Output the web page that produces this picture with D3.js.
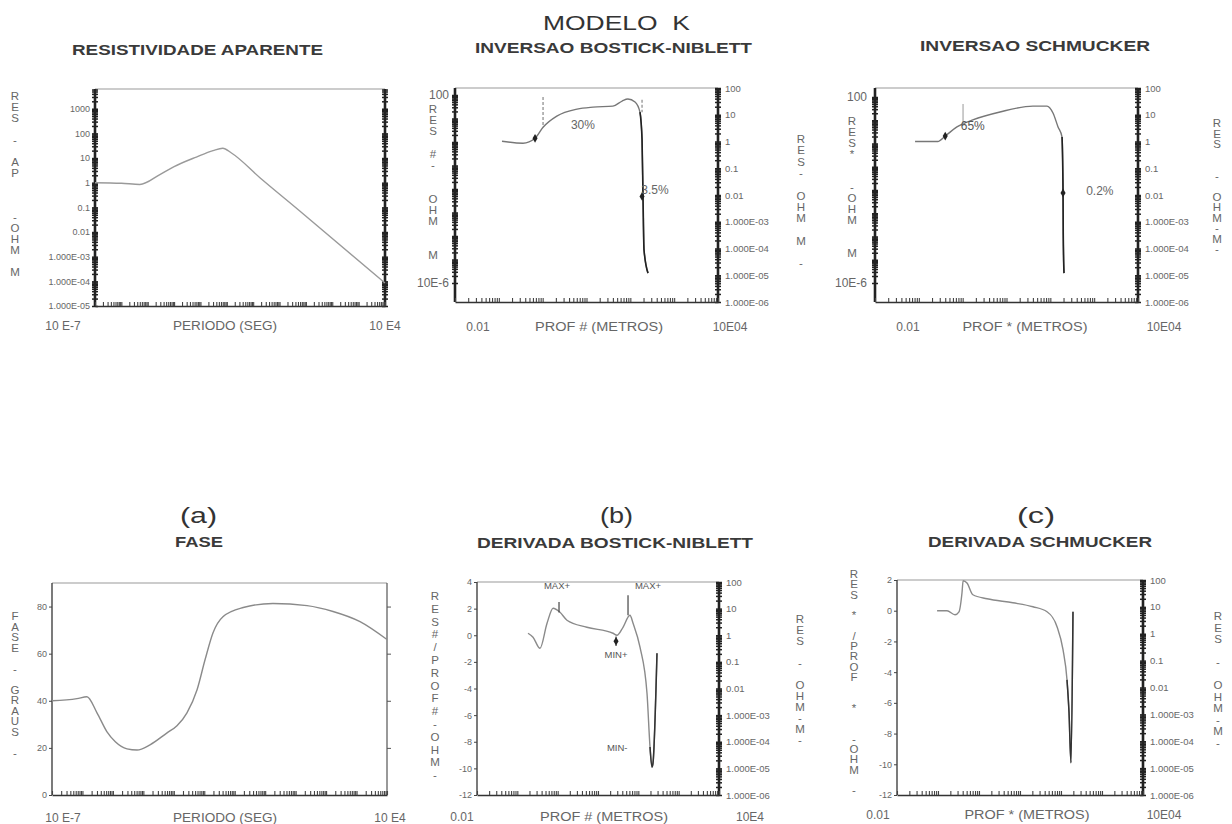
<!doctype html>
<html lang="pt">
<head>
<meta charset="utf-8">
<script src="https://d3js.org/d3.v7.min.js"></script>
<title>Modelo K</title>
<style>
  body { margin: 0; background: #fff; }
  svg text { font-family: "Liberation Sans", Arial, sans-serif; }
</style>
</head>
<body>
<svg id="svg" width="1232" height="824"></svg>
<script>
// ---------------- data ----------------
// resistividade aparente vs periodo
const periodoRes = [1e-7, 1e-6, 5e-6, 3e-5, 1e-4, 7e-4, 3e-3, 7e-3, 1.5e-2, 0.18, 6, 1e4];
const resAparente = [1.0, 0.95, 0.85, 2.2, 4.5, 11, 20, 25, 16, 1.6, 0.07, 8.5e-5];

// fase vs periodo
const periodoFase = [1e-7, 6.6e-7, 1.4e-6, 3e-6, 6.4e-6, 1.2e-5, 2.9e-5, 6.2e-5, 1.65e-4, 6e-4, 1.27e-3,
  2.7e-3, 5.8e-3, 1.06e-2, 1.94e-2, 4.1e-2, 0.19, 1.8, 23.7, 169, 1300, 1e4];
const fase = [40, 40.9, 41.7, 34.9, 26.8, 22.6, 19.6, 19.1, 21.3, 26.4, 29.4,
  34.9, 44.7, 57.4, 68.9, 75.7, 79.6, 81.3, 80.4, 77.9, 73.6, 66];

// inversao Bostick-Niblett
const profBN = [0.118, 0.356, 0.67, 1.02, 2.1, 6.1, 14.1, 40, 65, 88, 128, 166, 185, 195, 205, 253];
const resBN = [1.02, 0.86, 1.32, 3.4, 8.9, 16.3, 19.3, 21, 32.6, 38.6, 29.8, 12.5, 1.2, 0.0068, 9e-5, 1.2e-5];

// inversao Schmucker
const profSC = [0.082, 0.27, 0.40, 0.74, 1.7, 7.1, 40, 84, 115, 150, 185, 195, 197, 205];
const resSC = [1.0, 1.0, 1.6, 3.5, 6.4, 12.7, 21, 21, 11.6, 3.5, 1.47, 0.012, 3.8e-4, 1.2e-5];

// derivada Bostick-Niblett
const profDBN = [0.184, 0.245, 0.365, 0.545, 0.77, 1.14, 1.7, 5.3, 23.5, 29.6, 41.7, 62, 74, 110, 164, 195, 218, 231, 290];
const derivBN = [0.15, -0.15, -0.98, 0.9, 2.03, 1.73, 1.13, 0.6, 0.15, 0, 0.6, 1.5, 0.9, -0.9, -4.36, -8.4, -9.9, -9.6, -1.35];

// derivada Schmucker
const profDSC = [0.095, 0.166, 0.26, 0.325, 0.385, 0.41, 0.51, 0.71, 1.57, 6.7, 20.7, 45.6, 80, 112, 140, 157, 175, 196];
const derivSC = [0, 0, -0.26, -0.07, 1.17, 1.95, 1.8, 1.04, 0.78, 0.52, 0.26, -0.07, -1.04, -2.54, -4.5, -6.64, -9.9, -0.07];

// tick values and their printed labels
const resTicksAp = [1000, 100, 10, 1, 0.1, 0.01, 1e-3, 1e-4, 1e-5];
const resLabelsAp = ["1000", "100", "10", "1", "0.1", "0.01", "1.000E-03", "1.000E-04", "1.000E-05"];
const resTicksR = [100, 10, 1, 0.1, 0.01, 1e-3, 1e-4, 1e-5, 1e-6];
const resLabelsR = ["100", "10", "1", "0.1", "0.01", "1.000E-03", "1.000E-04", "1.000E-05", "1.000E-06"];
const faseTicks = [0, 20, 40, 60, 80];
const derivTicksBN = [4, 2, 0, -2, -4, -6, -8, -10, -12];
const derivTicksSC = [2, 0, -2, -4, -6, -8, -10, -12];

// --------------------------------------------------------------
const svg = d3.select("#svg");
const FONT = "Liberation Sans, Arial, sans-serif";

function logRange(lo, hi) {
  const out = [];
  for (let e = Math.floor(Math.log10(lo)); e <= Math.ceil(Math.log10(hi)); e++) {
    for (let m = 1; m < 10; m++) {
      const v = m * Math.pow(10, e);
      if (v >= lo * 0.999 && v <= hi * 1.001) out.push(v);
    }
  }
  return out;
}

function txt(g, x, y, s, size, opts = {}) {
  const t = g.append("text")
    .attr("x", x).attr("y", y)
    .attr("font-size", size)
    .attr("fill", opts.fill || "#666")
    .attr("font-weight", opts.bold ? "bold" : "normal")
    .attr("text-anchor", opts.anchor || "middle")
    .style("white-space", "pre")
    .text(s);
  if (opts.w) t.attr("textLength", opts.w).attr("lengthAdjust", "spacingAndGlyphs");
  return t;
}

// letters stacked vertically (plotter style axis titles), one text element
function stacked(g, x, y0, step, str) {
  const t = g.append("text")
    .attr("text-anchor", "middle")
    .attr("font-size", 11.5)
    .attr("fill", "#666");
  Array.from(str).forEach((c, i) => {
    if (c === " ") return;
    t.append("tspan").attr("x", x).attr("y", y0 + i * step).text(c);
  });
}

function spine(g, x1, y1, x2, y2, color, w) {
  g.append("line").attr("x1", x1).attr("y1", y1).attr("x2", x2).attr("y2", y2)
    .attr("stroke", color).attr("stroke-width", w);
}

// thick log axis with ticks on both sides
function heavyAxis(g, y, xPos, box) {
  const vals = logRange(...y.domain());
  [d3.axisLeft, d3.axisRight].forEach(f => {
    const ax = g.append("g").attr("transform", `translate(${xPos},0)`)
      .call(f(y).tickValues(vals).tickSize(3).tickSizeOuter(0).tickFormat(""));
    ax.select(".domain").remove();
    ax.selectAll(".tick line").attr("stroke", "#222").attr("stroke-width", 1.5);
  });
  spine(g, xPos, box.t, xPos, box.b, "#222", 2.6);
}

function bottomAxis(g, x, box) {
  const ax = g.append("g").attr("transform", `translate(0,${box.b})`)
    .call(d3.axisBottom(x).tickValues(logRange(...x.domain())).tickSize(-4).tickSizeOuter(0).tickFormat(""));
  ax.select(".domain").attr("stroke", "#333").attr("stroke-width", 1.3);
  ax.selectAll(".tick line").attr("stroke", "#444").attr("stroke-width", 1.1);
}

function labelAxis(g, scale, orient, pos, values, labels, size, pad, tick) {
  const base = orient === "left" ? d3.axisLeft(scale) : d3.axisRight(scale);
  const ax = g.append("g").attr("transform", `translate(${pos},0)`)
    .call(base.tickValues(values)
      .tickFormat(d => labels ? labels[values.indexOf(d)] : d)
      .tickSize(tick || 0).tickPadding(pad).tickSizeOuter(0));
  ax.attr("font-family", FONT);
  ax.select(".domain").remove();
  ax.selectAll(".tick line").attr("stroke", "#444");
  ax.selectAll("text").attr("font-size", size).attr("fill", "#666");
  return ax;
}

function curve(g, x, y, xs, ys, color, w, keep) {
  const pts = xs.map((v, i) => [v, ys[i]]).filter((d, i) => keep ? keep(d, i) : true);
  g.append("path")
    .attr("d", d3.line().x(d => x(d[0])).y(d => y(d[1])).curve(d3.curveMonotoneX)(pts))
    .attr("fill", "none").attr("stroke", color).attr("stroke-width", w);
}

function markers(g, x, y, pts) {
  g.selectAll(null).data(pts).join("path")
    .attr("transform", d => `translate(${x(d[0])},${y(d[1])})`)
    .attr("d", d3.symbol(d3.symbolDiamond).size(22))
    .attr("fill", "#222");
}

// ---------------- titles ----------------
const T = svg.append("g");
txt(T, 543, 30, "MODELO  K", 21, { anchor: "start", w: 147, fill: "#333" });
txt(T, 72, 55, "RESISTIVIDADE APARENTE", 15, { anchor: "start", w: 251, bold: true, fill: "#3a3a3a" });
txt(T, 475, 53, "INVERSAO BOSTICK-NIBLETT", 15, { anchor: "start", w: 277, bold: true, fill: "#3a3a3a" });
txt(T, 920, 51, "INVERSAO SCHMUCKER", 15, { anchor: "start", w: 230, bold: true, fill: "#3a3a3a" });
txt(T, 180, 523, "(a)", 22, { anchor: "start", w: 37, fill: "#333" });
txt(T, 175, 547, "FASE", 15, { anchor: "start", w: 48, bold: true, fill: "#3a3a3a" });
txt(T, 600, 523, "(b)", 22, { anchor: "start", w: 33, fill: "#333" });
txt(T, 477, 548, "DERIVADA BOSTICK-NIBLETT", 15, { anchor: "start", w: 276, bold: true, fill: "#3a3a3a" });
txt(T, 1017, 523, "(c)", 22, { anchor: "start", w: 38, fill: "#333" });
txt(T, 928, 547, "DERIVADA SCHMUCKER", 15, { anchor: "start", w: 224, bold: true, fill: "#3a3a3a" });

// ---------------- panel 1: resistividade aparente ----------------
{
  const box = { l: 95, r: 385, t: 89, b: 306 };
  const g = svg.append("g");
  const x = d3.scaleLog().domain([1e-7, 1e4]).range([box.l, box.r]);
  const y = d3.scaleLog().domain([1e-5, Math.pow(10, 3.8)]).range([box.b, box.t]);
  spine(g, box.l, box.t, box.r, box.t, "#999", 1.2);
  heavyAxis(g, y, box.l, box);
  heavyAxis(g, y, box.r, box);
  bottomAxis(g, x, box);
  labelAxis(g, y, "left", box.l - 3, resTicksAp, resLabelsAp, 9, 2);
  curve(g, x, y, periodoRes, resAparente, "#9a9a9a", 1.4);
  stacked(g, 15, 100, 11, "RES - AP   -OHM M");
  txt(g, 63, 330, "10 E-7", 12);
  txt(g, 225, 330, "PERIODO (SEG)", 12, { w: 104 });
  txt(g, 385, 330, "10 E4", 12);
}

// ---------------- panel 2: inversao Bostick-Niblett ----------------
{
  const box = { l: 455, r: 718, t: 88, b: 302 };
  const g = svg.append("g");
  const x = d3.scaleLog().domain([0.01, 1e4]).range([box.l, box.r]);
  const y = d3.scaleLog().domain([1e-6, 100]).range([box.b, box.t]);
  const yL = d3.scaleLog().domain([1e-6, 100]).range([283, 95]);
  spine(g, box.l, box.t, box.r, box.t, "#999", 1.2);
  heavyAxis(g, yL, box.l, box);
  heavyAxis(g, y, box.r, box);
  bottomAxis(g, x, box);
  labelAxis(g, yL, "left", box.l - 4, [100, 1e-6], ["100", "10E-6"], 12, 2);
  labelAxis(g, y, "right", box.r + 4, resTicksR, resLabelsR, 9.5, 3);
  curve(g, x, y, profBN, resBN, "#777", 1.4);
  curve(g, x, y, profBN, resBN, "#222", 1.6, d => d[0] >= 166);
  g.selectAll(null).data([[1.02, 46, 3.4], [185, 36, 12.5]]).join("line")
    .attr("x1", d => x(d[0])).attr("x2", d => x(d[0]))
    .attr("y1", d => y(d[1])).attr("y2", d => y(d[2]))
    .attr("stroke", "#888").attr("stroke-width", 1.2).attr("stroke-dasharray", "3,2");
  markers(g, x, y, [[0.67, 1.32], [185, 0.0088]]);
  txt(g, x(8.3), y(2.9), "30%", 12, { fill: "#666" });
  txt(g, x(366), y(0.0105), "3.5%", 12, { fill: "#666" });
  stacked(g, 433, 113, 11.2, "RES #-  OHM  M");
  stacked(g, 801, 143, 11.3, "RES- OHM M -");
  txt(g, 478, 331, "0.01", 12);
  txt(g, 599, 331, "PROF # (METROS)", 12, { w: 128 });
  txt(g, 730, 331, "10E04", 12);
}

// ---------------- panel 3: inversao Schmucker ----------------
{
  const box = { l: 875, r: 1138, t: 88, b: 302 };
  const g = svg.append("g");
  const x = d3.scaleLog().domain([0.01, 1e4]).range([box.l, box.r]);
  const y = d3.scaleLog().domain([1e-6, 100]).range([box.b, box.t]);
  const yL = d3.scaleLog().domain([1e-6, 100]).range([283, 97]);
  spine(g, box.l, box.t, box.r, box.t, "#999", 1.2);
  heavyAxis(g, yL, box.l, box);
  heavyAxis(g, y, box.r, box);
  bottomAxis(g, x, box);
  labelAxis(g, yL, "left", box.l - 6, [100, 1e-6], ["100", "10E-6"], 12, 2);
  labelAxis(g, y, "right", box.r + 4, resTicksR, resLabelsR, 9.5, 3);
  curve(g, x, y, profSC, resSC, "#777", 1.4);
  curve(g, x, y, profSC, resSC, "#222", 1.6, d => d[0] >= 185);
  g.selectAll(null).data([[1.02, 25, 4.1]]).join("line")
    .attr("x1", d => x(d[0])).attr("x2", d => x(d[0]))
    .attr("y1", d => y(d[1])).attr("y2", d => y(d[2]))
    .attr("stroke", "#aaa").attr("stroke-width", 1.2);
  markers(g, x, y, [[0.40, 1.6], [195, 0.012]]);
  txt(g, x(1.7), y(2.7), "65%", 12, { fill: "#555" });
  txt(g, x(1350), y(0.01), "0.2%", 12, { fill: "#666" });
  stacked(g, 852, 125, 11, "RES*  -OHM  M");
  stacked(g, 1217, 127, 10.5, "RES  - OHM-M-");
  txt(g, 908, 331, "0.01", 12);
  txt(g, 1025, 331, "PROF * (METROS)", 12, { w: 125 });
  txt(g, 1164, 331, "10E04", 12);
}

// ---------------- panel 4: fase ----------------
{
  const box = { l: 52, r: 387, t: 583, b: 795 };
  const g = svg.append("g");
  const x = d3.scaleLog().domain([1e-7, 1e4]).range([box.l, box.r]);
  const y = d3.scaleLinear().domain([0, 90]).range([box.b, box.t]);
  spine(g, box.l, box.t, box.r, box.t, "#999", 1.2);
  spine(g, box.l, box.t, box.l, box.b, "#333", 1.3);
  spine(g, box.r, box.t, box.r, box.b, "#555", 1.2);
  bottomAxis(g, x, box);
  labelAxis(g, y, "left", box.l, faseTicks, null, 9, 2, 3);
  g.append("g").attr("transform", `translate(${box.r},0)`)
    .call(d3.axisLeft(y).tickValues(faseTicks.slice(1)).tickSize(-4).tickFormat("").tickSizeOuter(0))
    .call(a => a.select(".domain").remove())
    .selectAll(".tick line").attr("stroke", "#555");
  curve(g, x, y, periodoFase, fase, "#8a8a8a", 1.4);
  stacked(g, 15, 620, 10.5, "FASE - GRAUS -");
  txt(g, 63, 822, "10 E-7", 12);
  txt(g, 225, 822, "PERIODO (SEG)", 12, { w: 104 });
  txt(g, 390, 822, "10 E4", 12);
}

// ---------------- panel 5: derivada Bostick-Niblett ----------------
{
  const box = { l: 477, r: 719, t: 582, b: 795 };
  const g = svg.append("g");
  const x = d3.scaleLog().domain([0.01, 1e4]).range([box.l, box.r]);
  const y = d3.scaleLinear().domain([-12, 4]).range([box.b, box.t]);
  const yR = d3.scaleLog().domain([1e-6, 100]).range([box.b, box.t]);
  spine(g, box.l, box.t, box.r, box.t, "#999", 1.2);
  spine(g, box.l, box.t, box.l, box.b, "#333", 1.3);
  heavyAxis(g, yR, box.r, box);
  bottomAxis(g, x, box);
  labelAxis(g, y, "left", box.l, derivTicksBN, null, 9, 2, 3);
  labelAxis(g, yR, "right", box.r + 4, resTicksR, resLabelsR, 9.5, 3);
  curve(g, x, y, profDBN, derivBN, "#8a8a8a", 1.4);
  curve(g, x, y, profDBN, derivBN, "#333", 1.5, d => d[0] >= 195);
  g.selectAll(null).data([[1.08, 2.5, 1.7], [55.5, 3.0, 1.5], [28, -0.1, -0.8]]).join("line")
    .attr("x1", d => x(d[0])).attr("x2", d => x(d[0]))
    .attr("y1", d => y(d[1])).attr("y2", d => y(d[2]))
    .attr("stroke", "#444").attr("stroke-width", 1.2);
  markers(g, x, y, [[28, -0.45]]);
  txt(g, x(0.96), y(3.5), "MAX+", 9.5, { fill: "#555" });
  txt(g, x(174), y(3.5), "MAX+", 9.5, { fill: "#555" });
  txt(g, x(28), y(-1.7), "MIN+", 9.5, { fill: "#555" });
  txt(g, x(30), y(-8.7), "MIN-", 9.5, { fill: "#555" });
  stacked(g, 435, 600, 12.8, "RES#/PROF#-OHM-");
  stacked(g, 800, 623, 11, "RES - OHM-M-");
  txt(g, 462, 821, "0.01", 12);
  txt(g, 604, 821, "PROF # (METROS)", 12, { w: 128 });
  txt(g, 750, 821, "10E4", 12);
}

// ---------------- panel 6: derivada Schmucker ----------------
{
  const box = { l: 897, r: 1143, t: 580, b: 795 };
  const g = svg.append("g");
  const x = d3.scaleLog().domain([0.01, 1e4]).range([box.l, box.r]);
  const y = d3.scaleLinear().domain([-12, 2]).range([box.b, box.t]);
  const yR = d3.scaleLog().domain([1e-6, 100]).range([box.b, box.t]);
  spine(g, box.l, box.t, box.r, box.t, "#999", 1.2);
  spine(g, box.l, box.t, box.l, box.b, "#333", 1.3);
  heavyAxis(g, yR, box.r, box);
  bottomAxis(g, x, box);
  labelAxis(g, y, "left", box.l, derivTicksSC, null, 9, 2, 3);
  labelAxis(g, yR, "right", box.r + 4, resTicksR, resLabelsR, 9.5, 3);
  curve(g, x, y, profDSC, derivSC, "#8a8a8a", 1.4);
  curve(g, x, y, profDSC, derivSC, "#333", 1.5, d => d[0] >= 140);
  stacked(g, 854, 578, 10.3, "RES * /PROF  *  -OHM -");
  stacked(g, 1218, 620, 11.5, "RES - OHM-M-");
  txt(g, 878, 819, "0.01", 12);
  txt(g, 1027, 819, "PROF * (METROS)", 12, { w: 125 });
  txt(g, 1164, 819, "10E04", 12);
}
</script>
</body>
</html>
